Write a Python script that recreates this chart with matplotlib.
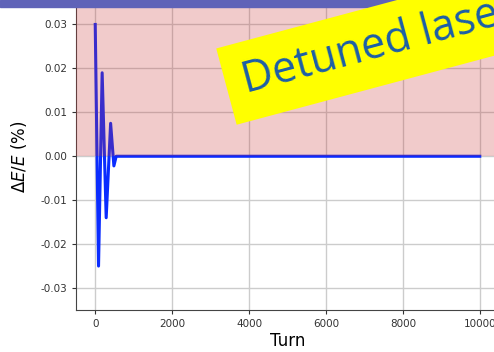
import numpy as np
import matplotlib
matplotlib.use("Agg")
from matplotlib import pyplot as plt
from matplotlib.patches import Rectangle

# energy deviation vs turn
turns = [0, 86, 180, 285, 400, 485, 545, 10000]
dE = [0.030, -0.025, 0.019, -0.014, 0.0075, -0.0022, 0.0, 0.0]

xticks = [0, 2000, 4000, 6000, 8000, 10000]
yticks = [-0.03, -0.02, -0.01, 0.00, 0.01, 0.02, 0.03]

fig = plt.figure(figsize=(4.94, 3.52), dpi=100)
ax = fig.add_axes([76 / 494, 42 / 352, 423 / 494, 307.5 / 352])

ax.plot(turns, dE, color='#0a2cff', lw=2.2, zorder=2)
# shaded region above zero, drawn over the curve
ax.axhspan(0, 0.05, color='#c83232', alpha=0.25, lw=0, zorder=3)

ax.set_xlim(-500, 10500)
ax.set_ylim(-0.035, 0.035)
ax.set_xticks(xticks)
ax.set_yticks(yticks)
ax.set_yticklabels(['%.2f' % v for v in yticks])
ax.tick_params(labelsize=7.5, colors='#333333', length=3)
ax.grid(True, color='#cccccc', lw=1)
ax.set_axisbelow(True)
for s in ax.spines.values():
    s.set_color('#444444')
ax.set_xlabel('Turn', fontsize=12, labelpad=2)
ax.set_ylabel(r'$\Delta E/E$ (%)', fontsize=12, labelpad=8)

# slide decorations: header bar and rotated label
fig.patches.append(Rectangle((0, 1 - 7 / 352), 1, 7 / 352, transform=fig.transFigure,
                             color='#5f63b8', zorder=5))
fig.text(246 / 494, 1 - 93 / 352, 'Detuned laser', fontsize=31, family='Open Sans',
         color='#1c5ea8', rotation=15, rotation_mode='anchor', ha='left', va='baseline',
         zorder=10,
         bbox=dict(boxstyle='square,pad=0.4', fc='#ffff00', ec='none'))

fig.savefig('out.png', dpi=100)
